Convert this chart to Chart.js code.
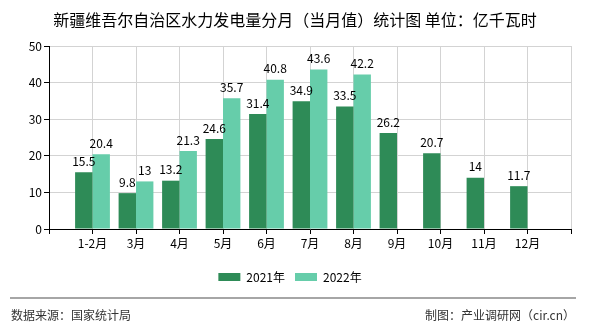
<!DOCTYPE html>
<html>
<head>
<meta charset="utf-8">
<script src="https://cdn.jsdelivr.net/npm/chart.js@4"></script>
<style>
    html, body { margin: 0; padding: 0; background: #fff; }
    #wrap { width: 590px; height: 330px; position: relative; }
</style>
</head>
<body>
<div id="wrap"><canvas id="hydro-chart"></canvas></div>
<script>
const TITLE = '新疆维吾尔自治区水力发电量分月（当月值）统计图 单位：亿千瓦时'
const SOURCE = '数据来源：国家统计局'
const MAKER = '制图：产业调研网（cir.cn）'

const months = ['1-2月', '3月', '4月', '5月', '6月', '7月', '8月', '9月', '10月', '11月', '12月']
const seriesNames = ['2021年', '2022年']
const values2021 = [15.5, 9.8, 13.2, 24.6, 31.4, 34.9, 33.5, 26.2, 20.7, 14, 11.7]
const values2022 = [20.4, 13, 21.3, 35.7, 40.8, 43.6, 42.2, null, null, null, null]
const yTicks = [0, 10, 20, 30, 40, 50]

const FONT = '"Noto Sans CJK SC", "DejaVu Sans", sans-serif'

// the axis has an empty slot at each end, bars sit on the tick marks
function pad(arr) { return [null].concat(arr, [null]) }

const valueLabels = {
    id: 'valueLabels',
    afterDatasetsDraw(chart) {
        const ctx = chart.ctx
        ctx.save()
        ctx.font = '12px ' + FONT
        ctx.fillStyle = '#000'
        ctx.textAlign = 'center'
        ctx.textBaseline = 'bottom'
        chart.data.datasets.forEach(function (ds, i) {
            chart.getDatasetMeta(i).data.forEach(function (bar, j) {
                if (ds.data[j] == null) return
                ctx.fillText(String(ds.data[j]), bar.x, bar.y - 5)
            })
        })
        ctx.restore()
    }
}

const decorations = {
    id: 'decorations',
    afterDraw(chart) {
        const ctx = chart.ctx
        ctx.save()
        ctx.fillStyle = '#000'
        ctx.font = '16px ' + FONT
        ctx.textAlign = 'center'
        ctx.textBaseline = 'middle'
        ctx.fillText(TITLE, 295, 20)

        ctx.strokeStyle = '#888'
        ctx.lineWidth = 1.5
        ctx.beginPath()
        ctx.moveTo(10, 298)
        ctx.lineTo(576, 298)
        ctx.stroke()

        ctx.fillStyle = '#333'
        ctx.font = '12px ' + FONT
        ctx.textAlign = 'left'
        ctx.fillText(SOURCE, 11, 315)
        ctx.textAlign = 'right'
        ctx.fillText(MAKER, 575, 315)
        ctx.restore()
    }
}

new Chart('hydro-chart', {
    type: 'bar',
    data: {
        labels: [''].concat(months, ['']),
        datasets: [{
            label: seriesNames[0],
            data: pad(values2021),
            backgroundColor: 'rgb(46, 139, 87)',
            borderWidth: 0
        }, {
            label: seriesNames[1],
            data: pad(values2022),
            backgroundColor: 'rgb(102, 205, 170)',
            borderWidth: 0
        }]
    },
    options: {
        responsive: true,
        maintainAspectRatio: false,
        animation: false,
        devicePixelRatio: 1,
        datasets: {
            bar: { categoryPercentage: 0.8, barPercentage: 1.0 }
        },
        layout: {
            padding: { top: 46, left: 9, right: 19, bottom: 37 }
        },
        scales: {
            x: {
                offset: false,
                grid: { offset: false, color: '#d3d3d3', tickColor: '#000', tickLength: 5 },
                border: { color: '#000' },
                ticks: {
                    color: '#000',
                    font: { size: 12, family: FONT },
                    padding: 2,
                    autoSkip: false,
                    maxRotation: 0
                },
                afterFit: function (scale) { scale.height = 32 }
            },
            y: {
                min: 0,
                max: 50,
                grid: { color: '#d3d3d3', tickColor: '#000', tickLength: 5 },
                border: { color: '#000' },
                afterBuildTicks: function (scale) {
                    scale.ticks = yTicks.map(function (v) { return { value: v } })
                },
                ticks: {
                    color: '#000',
                    font: { size: 12, family: FONT },
                    padding: 2
                },
                afterFit: function (scale) { scale.width = 40 }
            }
        },
        plugins: {
            title: { display: false },
            tooltip: { enabled: false },
            legend: {
                position: 'bottom',
                labels: {
                    boxWidth: 22,
                    boxHeight: 8,
                    padding: 10,
                    color: '#000',
                    font: { size: 12, family: FONT }
                }
            }
        }
    },
    plugins: [valueLabels, decorations]
})
</script>
</body>
</html>
